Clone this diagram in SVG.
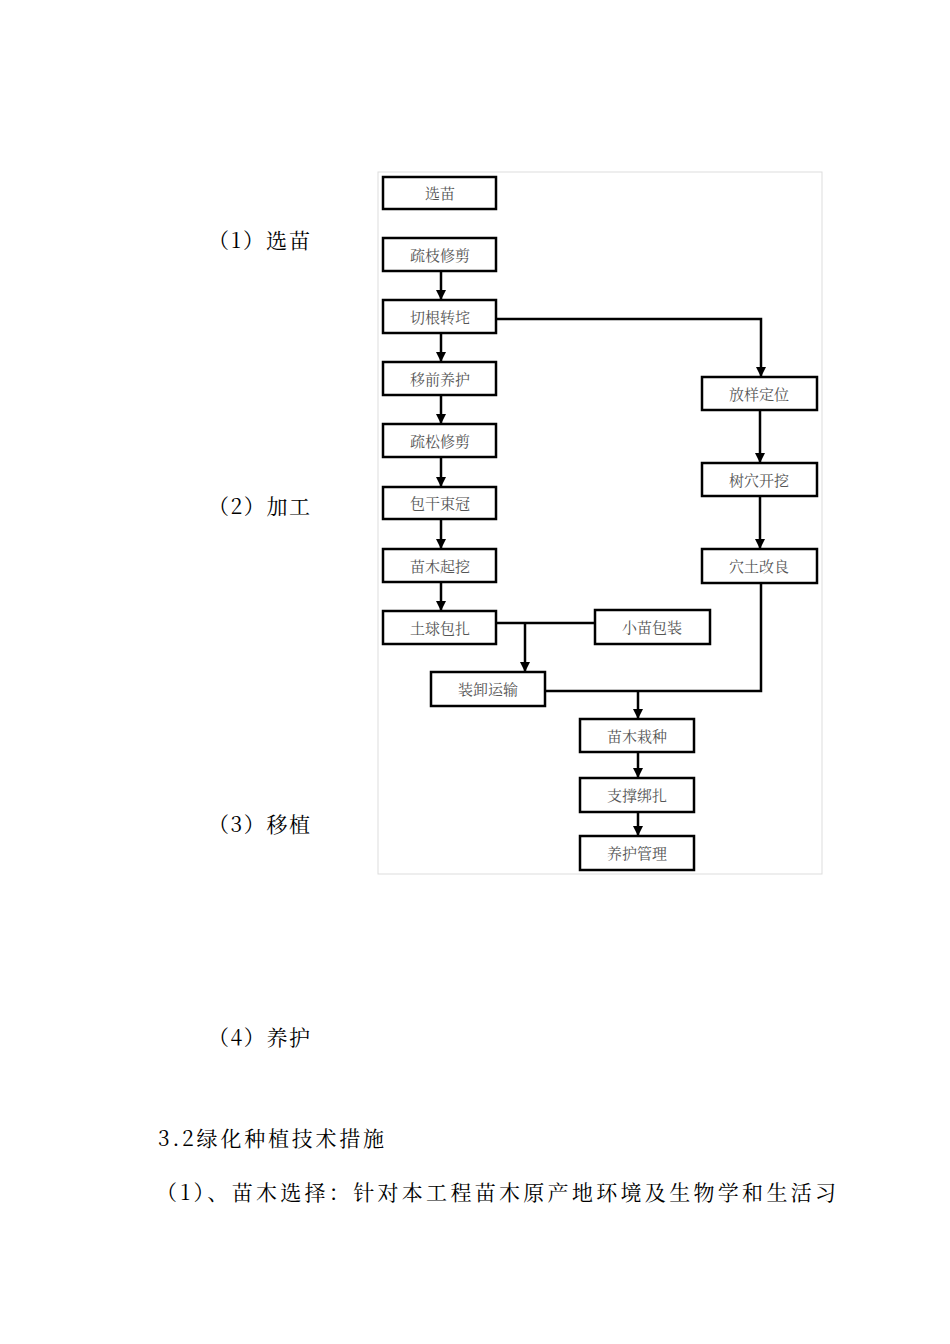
<svg xmlns="http://www.w3.org/2000/svg" width="950" height="1344" viewBox="0 0 950 1344">
<style>
.b{fill:#fff;stroke:#000;stroke-width:2.5}
.t{font-family:"Noto Serif CJK SC","Noto Sans CJK SC",serif;font-size:15px;fill:#555;text-anchor:middle}
.s{font-family:"Noto Serif CJK SC","Noto Sans CJK SC",serif;font-size:21px;fill:#000}
.c{fill:none;stroke:#000;stroke-width:2.5}
</style>
<defs><marker id="a" viewBox="0 0 10 10" refX="10" refY="5" markerWidth="4" markerHeight="4" orient="auto"><path d="M0,0L10,5L0,10z"/></marker></defs>
<rect width="950" height="1344" fill="#fff"/>
<rect x="378" y="172" width="444" height="702" fill="none" stroke="#ddd"/>
<text class="s" x="208" y="248" textLength="102" lengthAdjust="spacing">（1）选苗</text>
<text class="s" x="208" y="514" textLength="102" lengthAdjust="spacing">（2）加工</text>
<text class="s" x="208" y="832" textLength="102" lengthAdjust="spacing">（3）移植</text>
<text class="s" x="208" y="1045" textLength="102" lengthAdjust="spacing">（4）养护</text>
<text class="s" x="158" y="1146" textLength="226" lengthAdjust="spacing">3.2绿化种植技术措施</text>
<text class="s" x="156" y="1200" textLength="680" lengthAdjust="spacing">（1）、苗木选择：针对本工程苗木原产地环境及生物学和生活习</text>
<g id="connectors">
<path class="c" d="M441,271V300" marker-end="url(#a)"/>
<path class="c" d="M441,333V362" marker-end="url(#a)"/>
<path class="c" d="M441,395V424" marker-end="url(#a)"/>
<path class="c" d="M441,457V487" marker-end="url(#a)"/>
<path class="c" d="M441,519V549" marker-end="url(#a)"/>
<path class="c" d="M441,582V611" marker-end="url(#a)"/>
<path class="c" d="M496,319H761V377" marker-end="url(#a)"/>
<path class="c" d="M760,410V463" marker-end="url(#a)"/>
<path class="c" d="M760,496V549" marker-end="url(#a)"/>
<path class="c" d="M496,623H595"/>
<path class="c" d="M525,623V672" marker-end="url(#a)"/>
<path class="c" d="M545,691H761V583"/>
<path class="c" d="M638,691V719" marker-end="url(#a)"/>
<path class="c" d="M638,752V778" marker-end="url(#a)"/>
<path class="c" d="M638,812V836" marker-end="url(#a)"/>
</g>
<g id="n1"><rect class="b" x="383" y="177" width="113" height="32"/><text class="t" x="440" y="199">选苗</text></g>
<g id="n2"><rect class="b" x="383" y="238" width="113" height="33"/><text class="t" x="440" y="261">疏枝修剪</text></g>
<g id="n3"><rect class="b" x="383" y="300" width="113" height="33"/><text class="t" x="440" y="323">切根转垞</text></g>
<g id="n4"><rect class="b" x="383" y="362" width="113" height="33"/><text class="t" x="440" y="385">移前养护</text></g>
<g id="n5"><rect class="b" x="383" y="424" width="113" height="33"/><text class="t" x="440" y="447">疏松修剪</text></g>
<g id="n6"><rect class="b" x="383" y="487" width="113" height="32"/><text class="t" x="440" y="509">包干束冠</text></g>
<g id="n7"><rect class="b" x="383" y="549" width="113" height="33"/><text class="t" x="440" y="572">苗木起挖</text></g>
<g id="n8"><rect class="b" x="383" y="611" width="113" height="33"/><text class="t" x="440" y="634">土球包扎</text></g>
<g id="n9"><rect class="b" x="702" y="377" width="115" height="33"/><text class="t" x="759" y="400">放样定位</text></g>
<g id="n10"><rect class="b" x="702" y="463" width="115" height="33"/><text class="t" x="759" y="486">树穴开挖</text></g>
<g id="n11"><rect class="b" x="702" y="549" width="115" height="34"/><text class="t" x="759" y="572">穴土改良</text></g>
<g id="n12"><rect class="b" x="595" y="610" width="115" height="34"/><text class="t" x="652" y="633">小苗包装</text></g>
<g id="n13"><rect class="b" x="431" y="672" width="114" height="34"/><text class="t" x="488" y="695">装卸运输</text></g>
<g id="n14"><rect class="b" x="580" y="719" width="114" height="33"/><text class="t" x="637" y="742">苗木栽种</text></g>
<g id="n15"><rect class="b" x="580" y="778" width="114" height="34"/><text class="t" x="637" y="801">支撑绑扎</text></g>
<g id="n16"><rect class="b" x="580" y="836" width="114" height="34"/><text class="t" x="637" y="859">养护管理</text></g>
</svg>
